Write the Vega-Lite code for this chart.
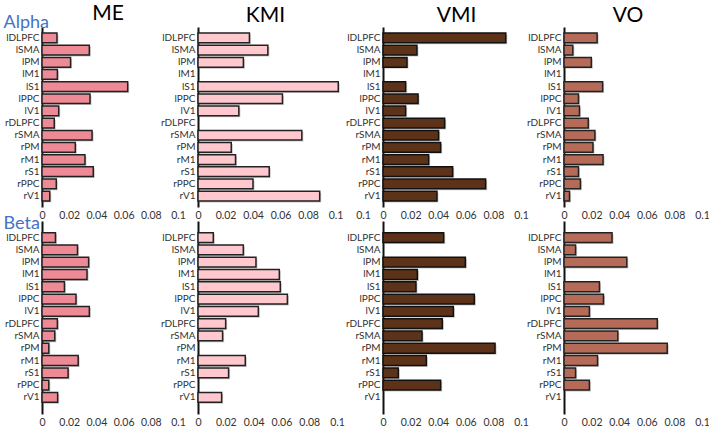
{
  "$schema": "https://vega.github.io/schema/vega-lite/v6.json",
  "padding": {"left": 3, "top": 3, "right": 0, "bottom": 0},
  "background": "white",
  "config": {
    "font": "Lato",
    "view": {"stroke": null},
    "title": {"fontSize": 21, "fontWeight": "normal", "color": "#000", "offset": 1, "font": "Lato"},
    "axisX": {"domain": false, "ticks": false, "grid": false, "labelFontSize": 10.5, "labelColor": "#333", "labelPadding": 3, "title": null, "labelFont": "Lato", "format": "~g", "labelOverlap": false, "labelFlush": false},
    "axisY": {"domain": true, "domainColor": "#111", "domainWidth": 2, "ticks": false, "grid": false, "labelFontSize": 10, "labelColor": "#333", "labelPadding": 3, "labelFont": "Lato", "labelOverlap": false}
  },
  "datasets": {
    "d": [
      {"band": "Alpha", "measure": "ME", "region": "lDLPFC", "value": 0.011},
      {"band": "Alpha", "measure": "ME", "region": "lSMA", "value": 0.0348},
      {"band": "Alpha", "measure": "ME", "region": "lPM", "value": 0.021},
      {"band": "Alpha", "measure": "ME", "region": "lM1", "value": 0.0113},
      {"band": "Alpha", "measure": "ME", "region": "lS1", "value": 0.063},
      {"band": "Alpha", "measure": "ME", "region": "lPPC", "value": 0.0353},
      {"band": "Alpha", "measure": "ME", "region": "lV1", "value": 0.0123},
      {"band": "Alpha", "measure": "ME", "region": "rDLPFC", "value": 0.009},
      {"band": "Alpha", "measure": "ME", "region": "rSMA", "value": 0.0368},
      {"band": "Alpha", "measure": "ME", "region": "rPM", "value": 0.0245},
      {"band": "Alpha", "measure": "ME", "region": "rM1", "value": 0.0316},
      {"band": "Alpha", "measure": "ME", "region": "rS1", "value": 0.0377},
      {"band": "Alpha", "measure": "ME", "region": "rPPC", "value": 0.0105},
      {"band": "Alpha", "measure": "ME", "region": "rV1", "value": 0.0057},
      {"band": "Alpha", "measure": "KMI", "region": "lDLPFC", "value": 0.0374},
      {"band": "Alpha", "measure": "KMI", "region": "lSMA", "value": 0.0508},
      {"band": "Alpha", "measure": "KMI", "region": "lPM", "value": 0.033},
      {"band": "Alpha", "measure": "KMI", "region": "lS1", "value": 0.102},
      {"band": "Alpha", "measure": "KMI", "region": "lPPC", "value": 0.0614},
      {"band": "Alpha", "measure": "KMI", "region": "lV1", "value": 0.0297},
      {"band": "Alpha", "measure": "KMI", "region": "rSMA", "value": 0.0755},
      {"band": "Alpha", "measure": "KMI", "region": "rPM", "value": 0.0242},
      {"band": "Alpha", "measure": "KMI", "region": "rM1", "value": 0.0273},
      {"band": "Alpha", "measure": "KMI", "region": "rS1", "value": 0.0518},
      {"band": "Alpha", "measure": "KMI", "region": "rPPC", "value": 0.04},
      {"band": "Alpha", "measure": "KMI", "region": "rV1", "value": 0.0885},
      {"band": "Alpha", "measure": "VMI", "region": "lDLPFC", "value": 0.089},
      {"band": "Alpha", "measure": "VMI", "region": "lSMA", "value": 0.0246},
      {"band": "Alpha", "measure": "VMI", "region": "lPM", "value": 0.0174},
      {"band": "Alpha", "measure": "VMI", "region": "lS1", "value": 0.0164},
      {"band": "Alpha", "measure": "VMI", "region": "lPPC", "value": 0.0254},
      {"band": "Alpha", "measure": "VMI", "region": "lV1", "value": 0.0164},
      {"band": "Alpha", "measure": "VMI", "region": "rDLPFC", "value": 0.0447},
      {"band": "Alpha", "measure": "VMI", "region": "rSMA", "value": 0.0403},
      {"band": "Alpha", "measure": "VMI", "region": "rPM", "value": 0.0418},
      {"band": "Alpha", "measure": "VMI", "region": "rM1", "value": 0.0331},
      {"band": "Alpha", "measure": "VMI", "region": "rS1", "value": 0.0505},
      {"band": "Alpha", "measure": "VMI", "region": "rPPC", "value": 0.0744},
      {"band": "Alpha", "measure": "VMI", "region": "rV1", "value": 0.0391},
      {"band": "Alpha", "measure": "VO", "region": "lDLPFC", "value": 0.024},
      {"band": "Alpha", "measure": "VO", "region": "lSMA", "value": 0.0064},
      {"band": "Alpha", "measure": "VO", "region": "lPM", "value": 0.0198},
      {"band": "Alpha", "measure": "VO", "region": "lS1", "value": 0.028},
      {"band": "Alpha", "measure": "VO", "region": "lPPC", "value": 0.0105},
      {"band": "Alpha", "measure": "VO", "region": "lV1", "value": 0.0112},
      {"band": "Alpha", "measure": "VO", "region": "rDLPFC", "value": 0.0176},
      {"band": "Alpha", "measure": "VO", "region": "rSMA", "value": 0.0224},
      {"band": "Alpha", "measure": "VO", "region": "rPM", "value": 0.021},
      {"band": "Alpha", "measure": "VO", "region": "rM1", "value": 0.0283},
      {"band": "Alpha", "measure": "VO", "region": "rS1", "value": 0.0105},
      {"band": "Alpha", "measure": "VO", "region": "rPPC", "value": 0.0119},
      {"band": "Alpha", "measure": "VO", "region": "rV1", "value": 0.004},
      {"band": "Beta", "measure": "ME", "region": "lDLPFC", "value": 0.0099},
      {"band": "Beta", "measure": "ME", "region": "lSMA", "value": 0.0261},
      {"band": "Beta", "measure": "ME", "region": "lPM", "value": 0.0343},
      {"band": "Beta", "measure": "ME", "region": "lM1", "value": 0.0331},
      {"band": "Beta", "measure": "ME", "region": "lS1", "value": 0.0165},
      {"band": "Beta", "measure": "ME", "region": "lPPC", "value": 0.025},
      {"band": "Beta", "measure": "ME", "region": "lV1", "value": 0.0348},
      {"band": "Beta", "measure": "ME", "region": "rDLPFC", "value": 0.0113},
      {"band": "Beta", "measure": "ME", "region": "rSMA", "value": 0.0094},
      {"band": "Beta", "measure": "ME", "region": "rPM", "value": 0.005},
      {"band": "Beta", "measure": "ME", "region": "rM1", "value": 0.0266},
      {"band": "Beta", "measure": "ME", "region": "rS1", "value": 0.0192},
      {"band": "Beta", "measure": "ME", "region": "rPPC", "value": 0.005},
      {"band": "Beta", "measure": "ME", "region": "rV1", "value": 0.0115},
      {"band": "Beta", "measure": "KMI", "region": "lDLPFC", "value": 0.011},
      {"band": "Beta", "measure": "KMI", "region": "lSMA", "value": 0.0326},
      {"band": "Beta", "measure": "KMI", "region": "lPM", "value": 0.0417},
      {"band": "Beta", "measure": "KMI", "region": "lM1", "value": 0.0585},
      {"band": "Beta", "measure": "KMI", "region": "lS1", "value": 0.0592},
      {"band": "Beta", "measure": "KMI", "region": "lPPC", "value": 0.0643},
      {"band": "Beta", "measure": "KMI", "region": "lV1", "value": 0.0434},
      {"band": "Beta", "measure": "KMI", "region": "rDLPFC", "value": 0.0199},
      {"band": "Beta", "measure": "KMI", "region": "rSMA", "value": 0.0177},
      {"band": "Beta", "measure": "KMI", "region": "rM1", "value": 0.034},
      {"band": "Beta", "measure": "KMI", "region": "rS1", "value": 0.022},
      {"band": "Beta", "measure": "KMI", "region": "rV1", "value": 0.017},
      {"band": "Beta", "measure": "VMI", "region": "lDLPFC", "value": 0.044},
      {"band": "Beta", "measure": "VMI", "region": "lPM", "value": 0.0597},
      {"band": "Beta", "measure": "VMI", "region": "lM1", "value": 0.0249},
      {"band": "Beta", "measure": "VMI", "region": "lS1", "value": 0.0239},
      {"band": "Beta", "measure": "VMI", "region": "lPPC", "value": 0.0662},
      {"band": "Beta", "measure": "VMI", "region": "lV1", "value": 0.051},
      {"band": "Beta", "measure": "VMI", "region": "rDLPFC", "value": 0.043},
      {"band": "Beta", "measure": "VMI", "region": "rSMA", "value": 0.0283},
      {"band": "Beta", "measure": "VMI", "region": "rPM", "value": 0.0812},
      {"band": "Beta", "measure": "VMI", "region": "rM1", "value": 0.0314},
      {"band": "Beta", "measure": "VMI", "region": "rS1", "value": 0.0111},
      {"band": "Beta", "measure": "VMI", "region": "rPPC", "value": 0.0418},
      {"band": "Beta", "measure": "VO", "region": "lDLPFC", "value": 0.0348},
      {"band": "Beta", "measure": "VO", "region": "lSMA", "value": 0.0084},
      {"band": "Beta", "measure": "VO", "region": "lPM", "value": 0.0455},
      {"band": "Beta", "measure": "VO", "region": "lS1", "value": 0.0257},
      {"band": "Beta", "measure": "VO", "region": "lPPC", "value": 0.0286},
      {"band": "Beta", "measure": "VO", "region": "lV1", "value": 0.0184},
      {"band": "Beta", "measure": "VO", "region": "rDLPFC", "value": 0.0676},
      {"band": "Beta", "measure": "VO", "region": "rSMA", "value": 0.039},
      {"band": "Beta", "measure": "VO", "region": "rPM", "value": 0.0748},
      {"band": "Beta", "measure": "VO", "region": "rM1", "value": 0.0243},
      {"band": "Beta", "measure": "VO", "region": "rS1", "value": 0.0084},
      {"band": "Beta", "measure": "VO", "region": "rPPC", "value": 0.0184}
    ]
  },
  "spacing": -9,
  "vconcat": [
    {
      "bounds": "flush",
      "spacing": 20,
      "hconcat": [
        {
          "width": 136, "height": 180,
          "title": {"text": "ME", "dx": -2, "dy": 12},
          "data": {"name": "d"},
          "transform": [{"filter": "datum.band === 'Alpha' && datum.measure === 'ME'"}],
          "encoding": {
            "y": {"field": "region", "type": "nominal", "scale": {"domain": ["lDLPFC","lSMA","lPM","lM1","lS1","lPPC","lV1","rDLPFC","rSMA","rPM","rM1","rS1","rPPC","rV1"], "paddingInner": 0.2, "paddingOuter": 0.5},
                  "axis": {"title": "Alpha", "titleAngle": 0, "titleX": -39, "titleY": 0, "titleAlign": "left", "titleBaseline": "alphabetic", "titleColor": "#4472C4", "titleFontSize": 18, "titleFontWeight": "normal", "titleFont": "Lato"}},
            "x": {"field": "value", "type": "quantitative", "scale": {"domain": [0, 0.1], "nice": false}, "axis": {"values": [0, 0.02, 0.04, 0.06, 0.08, 0.1]}}
          },
          "layer": [
            {"mark": {"type": "bar", "fill": "#9a9a9a", "opacity": 0.55, "xOffset": 1.5, "yOffset": 1.5}},
            {"mark": {"type": "bar", "fill": "#EE8A96", "stroke": "#222", "strokeWidth": 1.5}}
          ]
        },
        {
          "width": 165, "height": 180,
          "title": {"text": "KMI", "dx": -15},
          "data": {"name": "d"},
          "transform": [{"filter": "datum.band === 'Alpha' && datum.measure === 'KMI'"}],
          "encoding": {
            "y": {"field": "region", "type": "nominal", "scale": {"domain": ["lDLPFC","lSMA","lPM","lM1","lS1","lPPC","lV1","rDLPFC","rSMA","rPM","rM1","rS1","rPPC","rV1"], "paddingInner": 0.2, "paddingOuter": 0.5}, "axis": {"title": null}},
            "x": {"field": "value", "type": "quantitative", "scale": {"domain": [0, 0.12], "nice": false}, "axis": {"values": [0, 0.02, 0.04, 0.06, 0.08, 0.1, 0.12]}}
          },
          "layer": [
            {"mark": {"type": "bar", "fill": "#9a9a9a", "opacity": 0.55, "xOffset": 1.5, "yOffset": 1.5}},
            {"mark": {"type": "bar", "fill": "#FFC8CE", "stroke": "#222", "strokeWidth": 1.5}}
          ]
        },
        {
          "width": 161, "height": 180,
          "title": {"text": "VMI", "dx": -7},
          "data": {"name": "d"},
          "transform": [{"filter": "datum.band === 'Alpha' && datum.measure === 'VMI'"}],
          "encoding": {
            "y": {"field": "region", "type": "nominal", "scale": {"domain": ["lDLPFC","lSMA","lPM","lM1","lS1","lPPC","lV1","rDLPFC","rSMA","rPM","rM1","rS1","rPPC","rV1"], "paddingInner": 0.2, "paddingOuter": 0.5}, "axis": {"title": null}},
            "x": {"field": "value", "type": "quantitative", "scale": {"domain": [0, 0.1167], "nice": false}, "axis": {"values": [0, 0.02, 0.04, 0.06, 0.08, 0.1]}}
          },
          "layer": [
            {"mark": {"type": "bar", "fill": "#9a9a9a", "opacity": 0.55, "xOffset": 1.5, "yOffset": 1.5}},
            {"mark": {"type": "bar", "fill": "#5C3219", "stroke": "#111", "strokeWidth": 1.5}}
          ]
        },
        {
          "width": 138, "height": 180,
          "title": {"text": "VO", "dx": -5},
          "data": {"name": "d"},
          "transform": [{"filter": "datum.band === 'Alpha' && datum.measure === 'VO'"}],
          "encoding": {
            "y": {"field": "region", "type": "nominal", "scale": {"domain": ["lDLPFC","lSMA","lPM","lM1","lS1","lPPC","lV1","rDLPFC","rSMA","rPM","rM1","rS1","rPPC","rV1"], "paddingInner": 0.2, "paddingOuter": 0.5}, "axis": {"title": null}},
            "x": {"field": "value", "type": "quantitative", "scale": {"domain": [0, 0.1], "nice": false}, "axis": {"values": [0, 0.02, 0.04, 0.06, 0.08, 0.1]}}
          },
          "layer": [
            {"mark": {"type": "bar", "fill": "#9a9a9a", "opacity": 0.55, "xOffset": 1.5, "yOffset": 1.5}},
            {"mark": {"type": "bar", "fill": "#B56B58", "stroke": "#222", "strokeWidth": 1.5}}
          ]
        }
      ]
    },
    {
      "bounds": "flush",
      "spacing": 20,
      "hconcat": [
        {
          "width": 136, "height": 193,
          "data": {"name": "d"},
          "transform": [{"filter": "datum.band === 'Beta' && datum.measure === 'ME'"}],
          "encoding": {
            "y": {"field": "region", "type": "nominal", "scale": {"domain": ["lDLPFC","lSMA","lPM","lM1","lS1","lPPC","lV1","rDLPFC","rSMA","rPM","rM1","rS1","rPPC","rV1"], "paddingInner": 0.2, "paddingOuter": 0.95, "align": 0.5},
                  "axis": {"title": "Beta", "titleAngle": 0, "titleX": -39, "titleY": 7, "titleAlign": "left", "titleBaseline": "alphabetic", "titleColor": "#4472C4", "titleFontSize": 18, "titleFontWeight": "normal", "titleFont": "Lato"}},
            "x": {"field": "value", "type": "quantitative", "scale": {"domain": [0, 0.1], "nice": false}, "axis": {"values": [0, 0.02, 0.04, 0.06, 0.08, 0.1]}}
          },
          "layer": [
            {"mark": {"type": "bar", "fill": "#9a9a9a", "opacity": 0.55, "xOffset": 1.5, "yOffset": 1.5}},
            {"mark": {"type": "bar", "fill": "#EE8A96", "stroke": "#222", "strokeWidth": 1.5}}
          ]
        },
        {
          "width": 165, "height": 193,
          "data": {"name": "d"},
          "transform": [{"filter": "datum.band === 'Beta' && datum.measure === 'KMI'"}],
          "encoding": {
            "y": {"field": "region", "type": "nominal", "scale": {"domain": ["lDLPFC","lSMA","lPM","lM1","lS1","lPPC","lV1","rDLPFC","rSMA","rPM","rM1","rS1","rPPC","rV1"], "paddingInner": 0.2, "paddingOuter": 0.95, "align": 0.5}, "axis": {"title": null}},
            "x": {"field": "value", "type": "quantitative", "scale": {"domain": [0, 0.1187], "nice": false}, "axis": {"values": [0, 0.02, 0.04, 0.06, 0.08, 0.1]}}
          },
          "layer": [
            {"mark": {"type": "bar", "fill": "#9a9a9a", "opacity": 0.55, "xOffset": 1.5, "yOffset": 1.5}},
            {"mark": {"type": "bar", "fill": "#FFC8CE", "stroke": "#222", "strokeWidth": 1.5}}
          ]
        },
        {
          "width": 161, "height": 193,
          "data": {"name": "d"},
          "transform": [{"filter": "datum.band === 'Beta' && datum.measure === 'VMI'"}],
          "encoding": {
            "y": {"field": "region", "type": "nominal", "scale": {"domain": ["lDLPFC","lSMA","lPM","lM1","lS1","lPPC","lV1","rDLPFC","rSMA","rPM","rM1","rS1","rPPC","rV1"], "paddingInner": 0.2, "paddingOuter": 0.95, "align": 0.5}, "axis": {"title": null}},
            "x": {"field": "value", "type": "quantitative", "scale": {"domain": [0, 0.1167], "nice": false}, "axis": {"values": [0, 0.02, 0.04, 0.06, 0.08, 0.1]}}
          },
          "layer": [
            {"mark": {"type": "bar", "fill": "#9a9a9a", "opacity": 0.55, "xOffset": 1.5, "yOffset": 1.5}},
            {"mark": {"type": "bar", "fill": "#5C3219", "stroke": "#111", "strokeWidth": 1.5}}
          ]
        },
        {
          "width": 138, "height": 193,
          "data": {"name": "d"},
          "transform": [{"filter": "datum.band === 'Beta' && datum.measure === 'VO'"}],
          "encoding": {
            "y": {"field": "region", "type": "nominal", "scale": {"domain": ["lDLPFC","lSMA","lPM","lM1","lS1","lPPC","lV1","rDLPFC","rSMA","rPM","rM1","rS1","rPPC","rV1"], "paddingInner": 0.2, "paddingOuter": 0.95, "align": 0.5}, "axis": {"title": null}},
            "x": {"field": "value", "type": "quantitative", "scale": {"domain": [0, 0.1], "nice": false}, "axis": {"values": [0, 0.02, 0.04, 0.06, 0.08, 0.1]}}
          },
          "layer": [
            {"mark": {"type": "bar", "fill": "#9a9a9a", "opacity": 0.55, "xOffset": 1.5, "yOffset": 1.5}},
            {"mark": {"type": "bar", "fill": "#B56B58", "stroke": "#222", "strokeWidth": 1.5}}
          ]
        }
      ]
    }
  ]
}
